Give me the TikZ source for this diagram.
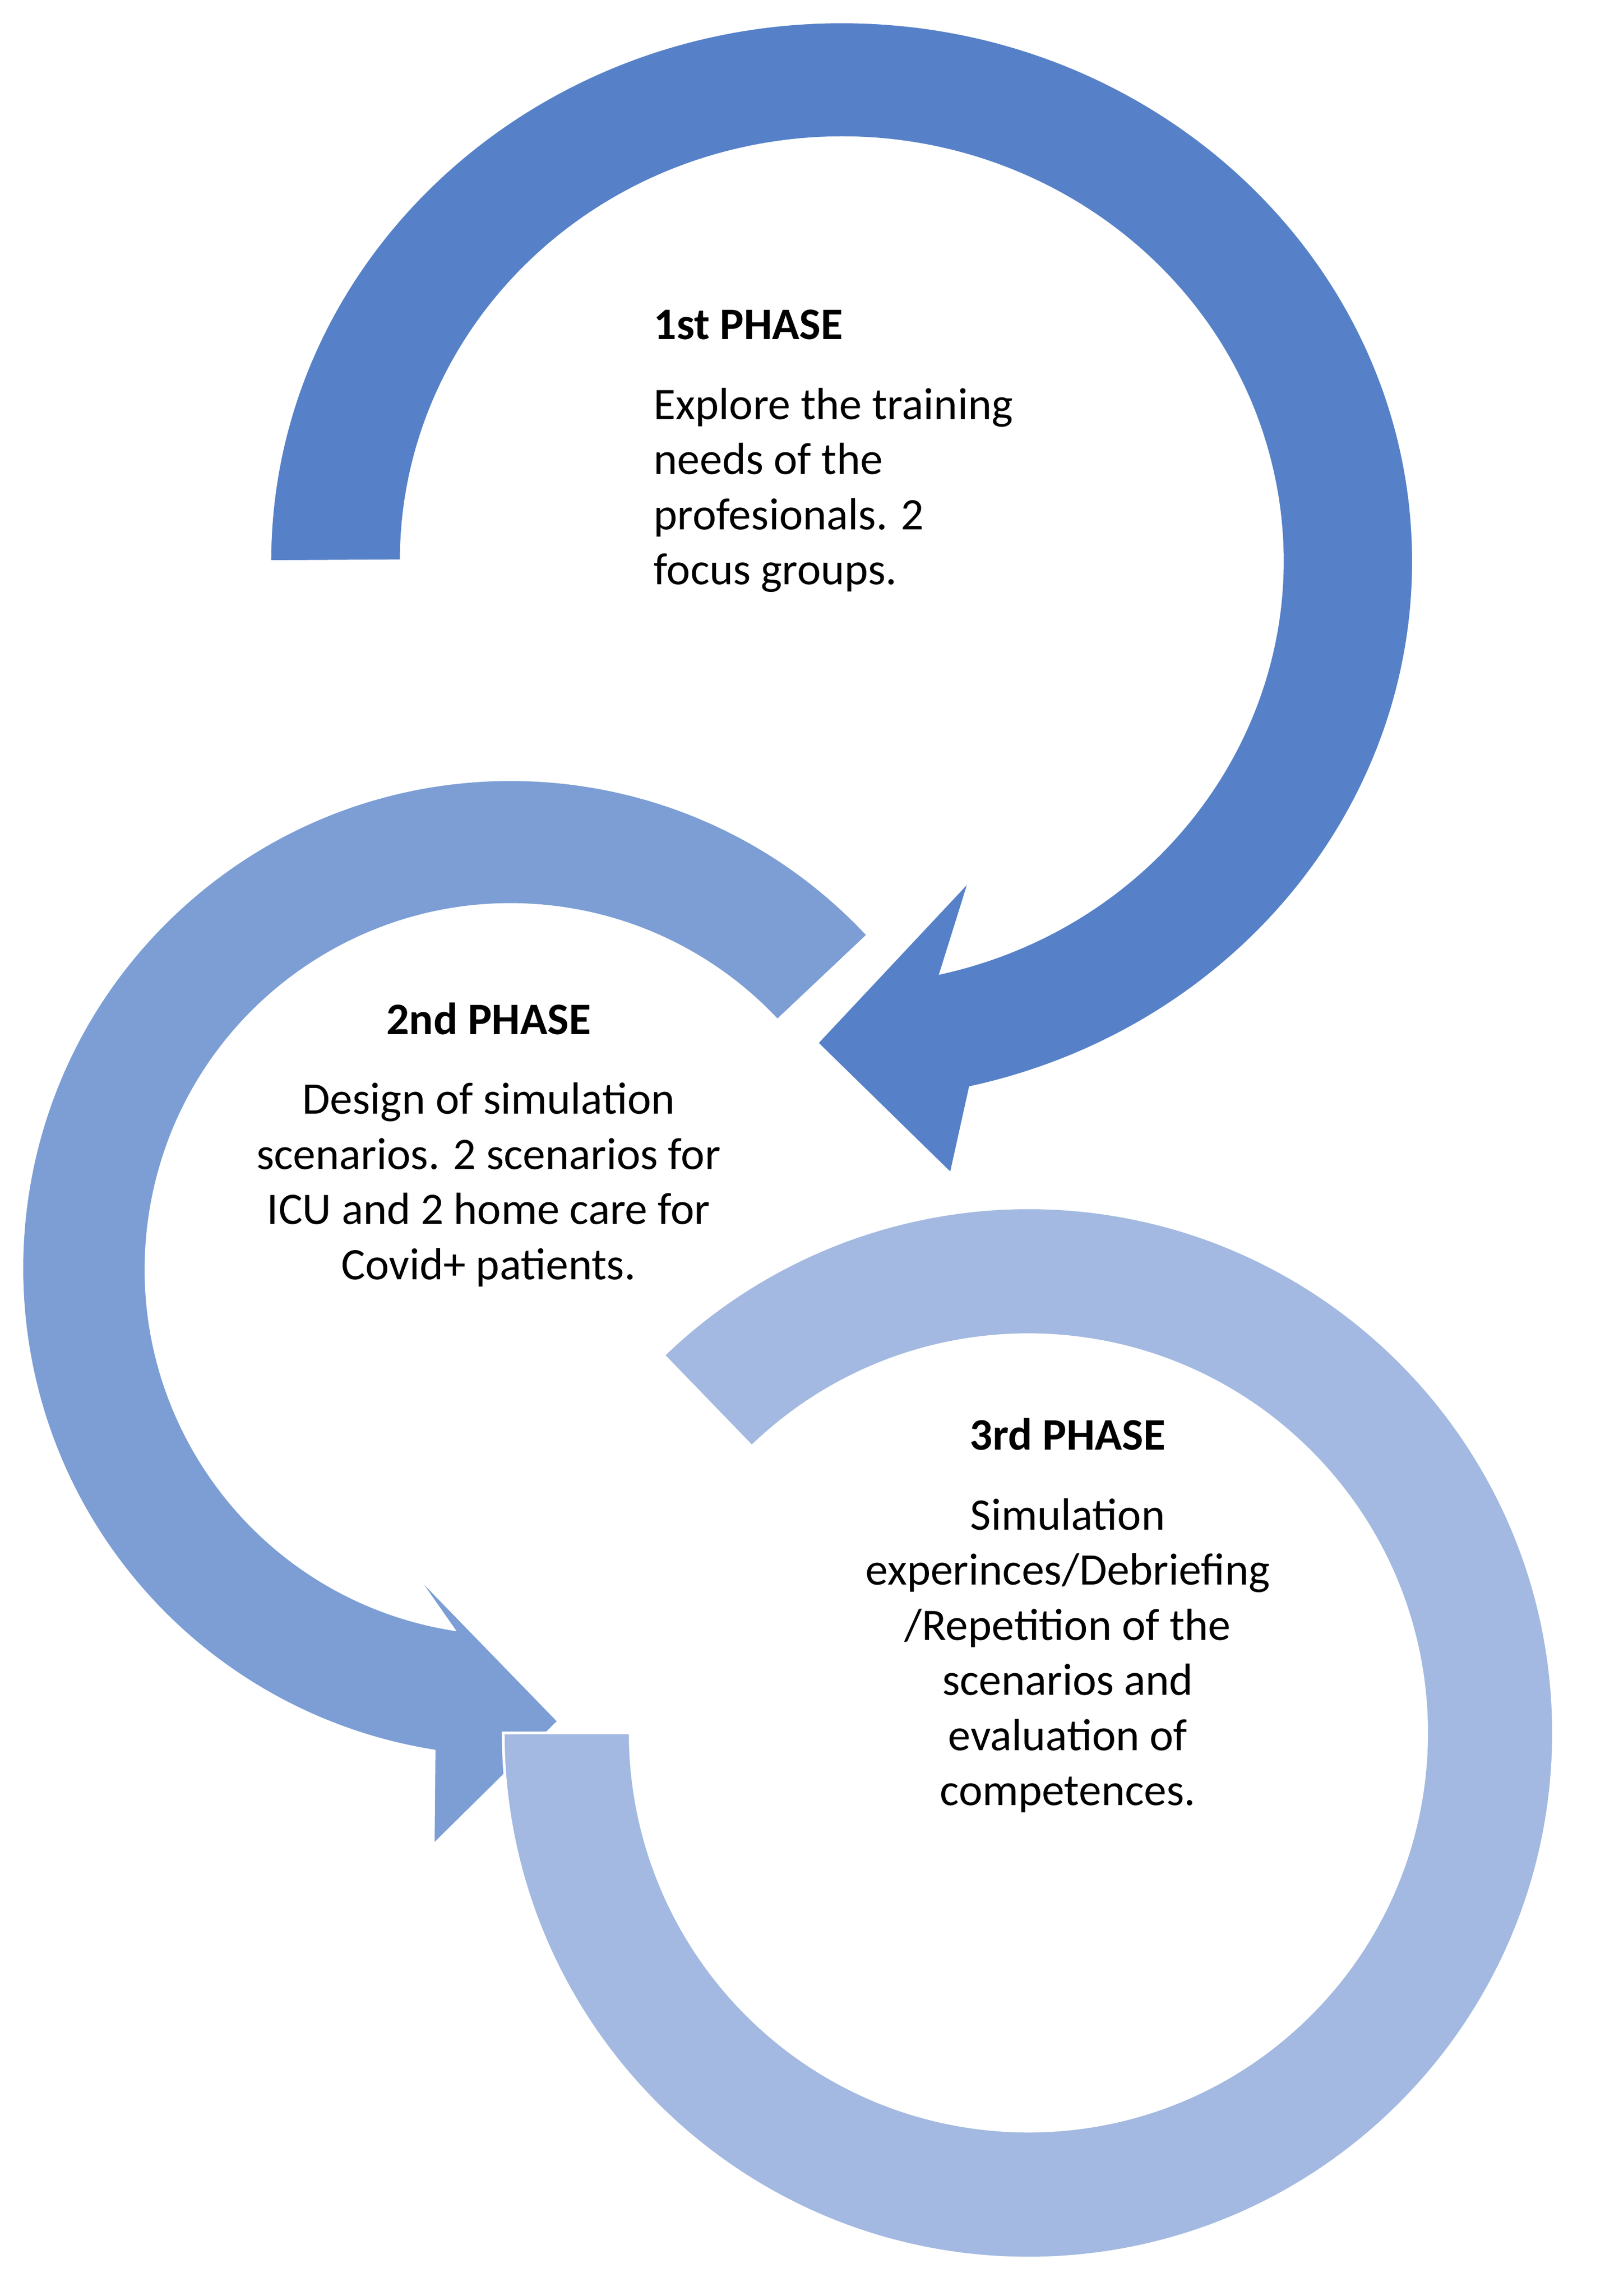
\documentclass[tikz,border=0pt]{standalone}
\usepackage{fontspec}
\setmainfont{Carlito}
\definecolor{phaseone}{HTML}{5681C8}
\definecolor{phasetwo}{HTML}{7C9ED5}
\definecolor{phasethree}{HTML}{A3B9E1}
\begin{document}
\begin{tikzpicture}[x=0.02844cm, y=0.02844cm,
  phase/.style={font=\fontsize{25}{30.6}\selectfont, inner sep=0pt}]

\useasboundingbox (0,0) rectangle (1100,-1574);

\draw [fill=phaseone, draw=white, line width=1.5pt] (185,-385) arc [start angle=180, end angle=-77, x radius=392, y radius=370] -- (652,-805) -- (560,-715) -- (665,-603) -- (645,-667) arc [start angle=-77, end angle=180, x radius=302, y radius=290] -- cycle;

\draw [fill=phasetwo, draw=white, line width=1.5pt] (595,-641) arc [start angle=43, end angle=261, radius=335] -- (297,-1265) -- (383,-1180) -- (283,-1077) -- (311,-1117) arc [start angle=261, end angle=43, radius=250] -- cycle;

\draw [fill=phasethree, draw=white, line width=1.5pt] (345,-1188) arc [start angle=180, end angle=494, radius=360] -- (515.4,-991.6) arc [start angle=494, end angle=180, radius=273] -- cycle;

\node [phase, anchor=north west, align=left] (one) at (448,-212) {\textbf{1st PHASE}\\[0.55em]Explore the training\\needs of the\\profesionals. 2\\focus groups.};
\node [phase, anchor=north, align=center] (two) at (335,-687) {\textbf{2nd PHASE}\\[0.55em]Design of simulation\\scenarios. 2 scenarios for\\ICU and 2 home care for\\Covid+ patients.};
\node [phase, anchor=north, align=center] (three) at (732,-972) {\textbf{3rd PHASE}\\[0.55em]Simulation\\experinces/Debriefing\\/Repetition of the\\scenarios and\\evaluation of\\competences.};

\end{tikzpicture}
\end{document}
